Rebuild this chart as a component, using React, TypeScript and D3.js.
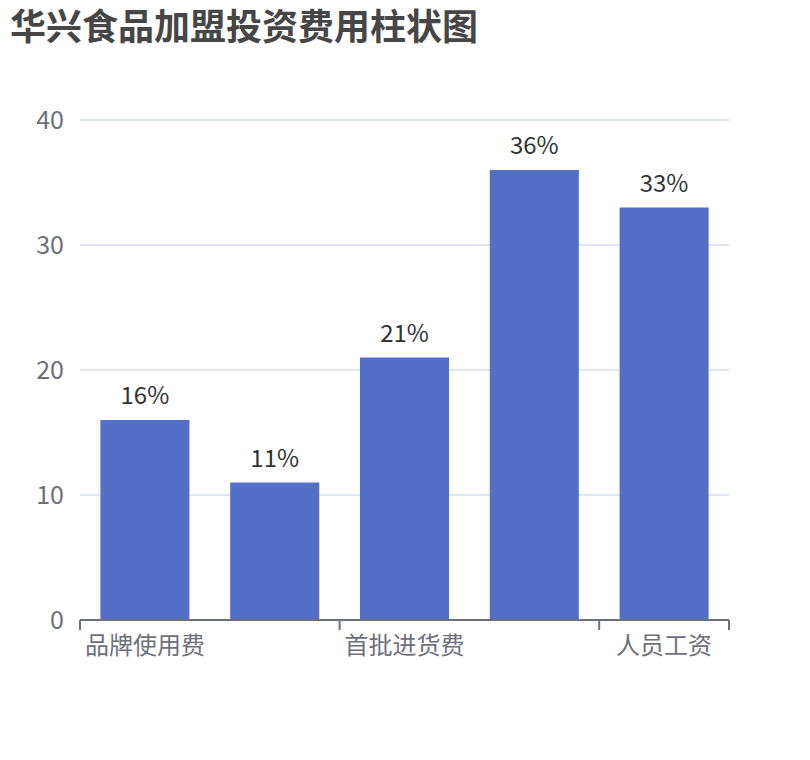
import React from "react";
import * as d3 from "d3";

const title = "华兴食品加盟投资费用柱状图";
const categories = ["品牌使用费", "店面装修费", "首批进货费", "设备购置费", "人员工资"];
const values = [16, 11, 21, 36, 33];
const yTicks = [0, 10, 20, 30, 40];
const labelInterval = 2;

const W = 810;
const H = 760;
const margin = { left: 80, right: 81, top: 120, bottom: 140 };
const FONT = "'Noto Sans CJK SC', 'Noto Sans', sans-serif";

export default function App() {
  const x = d3
    .scaleBand<string>()
    .domain(categories)
    .range([margin.left, W - margin.right])
    .paddingInner(0.314)
    .paddingOuter(0.157);
  const band = d3
    .scaleBand<string>()
    .domain(categories)
    .range([margin.left, W - margin.right])
    .padding(0);
  const y = d3.scaleLinear().domain([0, 40]).range([H - margin.bottom, margin.top]);

  const tickPositions: number[] = [];
  categories.forEach((c, i) => {
    if (i % labelInterval === 0) tickPositions.push(band(c)!);
  });
  tickPositions.push(W - margin.right);

  return (
    <svg
      width={W}
      height={H}
      style={{ position: "absolute", left: 0, top: 0, background: "#fff" }}
      fontFamily={FONT}
    >
      <text x={10} y={40} fontSize={36} fontWeight="bold" fill="#464646">
        {title}
      </text>
      {yTicks.map((t) => (
        <g key={t}>
          {t !== 0 && (
            <line
              x1={margin.left}
              x2={W - margin.right}
              y1={y(t)}
              y2={y(t)}
              stroke="#E0E6F1"
              strokeWidth={2}
            />
          )}
          <text
            x={margin.left - 16}
            y={y(t) - 2}
            textAnchor="end"
            dominantBaseline="central"
            fontSize={25}
            fill="#6E7079"
          >
            {t}
          </text>
        </g>
      ))}
      {categories.map((c, i) => (
        <g key={c}>
          <rect
            x={x(c)!}
            y={y(values[i])}
            width={x.bandwidth()}
            height={y(0) - y(values[i])}
            fill="#5470C6"
          />
          <text
            x={x(c)! + x.bandwidth() / 2}
            y={y(values[i]) - 16}
            textAnchor="middle"
            fontSize={24}
            fill="#333"
          >
            {values[i]}%
          </text>
          {i % labelInterval === 0 && (
            <text
              x={band(c)! + band.bandwidth() / 2}
              y={654}
              textAnchor="middle"
              fontSize={24}
              fill="#6E7079"
            >
              {c}
            </text>
          )}
        </g>
      ))}
      <line
        x1={margin.left}
        x2={W - margin.right}
        y1={y(0)}
        y2={y(0)}
        stroke="#6E7079"
        strokeWidth={2}
      />
      {tickPositions.map((p, i) => (
        <line
          key={i}
          x1={p}
          x2={p}
          y1={y(0)}
          y2={y(0) + 10}
          stroke="#6E7079"
          strokeWidth={2}
        />
      ))}
    </svg>
  );
}
